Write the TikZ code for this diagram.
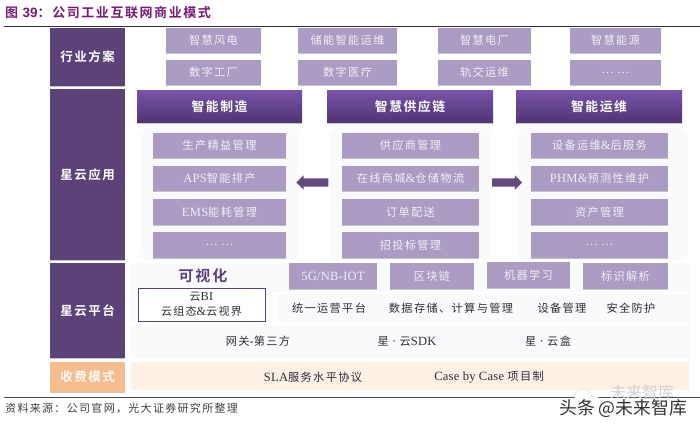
\documentclass[tikz,border=0pt]{standalone}
\usepackage{fontspec}
\setmainfont[LetterSpace=12,BoldFont=* Bold]{Noto Sans CJK SC}
\newfontfamily\plainzh{Noto Sans CJK SC}
\newfontfamily\lat[Scale=1.12,LetterSpace=2]{Liberation Serif}
\newfontfamily\arialbold{Liberation Sans Bold}
\usetikzlibrary{shadows,shapes.arrows,shapes.geometric}
\definecolor{deep}{HTML}{5B4278}
\definecolor{lilac}{HTML}{AB9CC3}
\definecolor{heada}{HTML}{7753A8}
\definecolor{headb}{HTML}{4F3472}
\definecolor{titlec}{HTML}{7A1A78}
\definecolor{orangec}{HTML}{F5BC8E}
\definecolor{peach}{HTML}{FDF1E6}
\definecolor{pale}{HTML}{FAFAFD}
\definecolor{ink}{HTML}{2E2E38}
\tikzset{
 x=1pt,y=-1pt,
 softshadow/.style={drop shadow={shadow xshift=0.4pt,shadow yshift=-0.8pt,fill=black,opacity=.22}},
 sidebox/.style={fill=deep,softshadow,text=white,font=\bfseries\fontsize{12.5}{14}\selectfont},
 lightbox/.style={fill=lilac,softshadow,text=white!82!lilac,font=\fontsize{11.2}{12}\selectfont},
 headbox/.style={top color=heada,bottom color=headb,softshadow,text=white,font=\bfseries\fontsize{12.8}{14}\selectfont},
 plainlabel/.style={text=ink,font=\fontsize{11.2}{12}\selectfont},
 blockarrow/.style={shape=single arrow,fill=deep!90!lilac,inner sep=0pt,text height=8pt,text depth=0pt,text width=1pt,single arrow head extend=3pt,single arrow head indent=0pt},
}
% name, style, x1, y1, x2, y2, text
\newcommand{\bx}[7]{\node[#2,draw=none,inner sep=0pt,minimum width=#5pt-#3pt,minimum height=#6pt-#4pt,anchor=center] (#1) at ({(#3+#5)/2},{(#4+#6)/2}) {#7};}
\begin{document}
\begin{tikzpicture}
\useasboundingbox (0,0) rectangle (700,430);
\fill[white] (0,0) rectangle (700,430);
% title and rules
\node[anchor=west,inner sep=0pt,text=titlec,font=\bfseries\fontsize{13}{14}\selectfont] (title) at (5,13) {图 {\arialbold\fontsize{13.5}{14}\selectfont 39}^^^^ff1a公司工业互联网商业模式};
\coordinate (ruleAa) at (4,26); \coordinate (ruleAb) at (700,26);
\draw[line width=.7pt,ink] (ruleAa) -- (ruleAb);
\coordinate (ruleBa) at (4,397.5); \coordinate (ruleBb) at (700,397.5);
\draw[line width=.7pt,black!70] (ruleBa) -- (ruleBb);
% pale panels
\fill[pale,rounded corners=8pt] (140,128) rectangle (298,260);
\fill[pale,rounded corners=8pt] (330,128) rectangle (490,260);
\fill[pale,rounded corners=8pt] (518,128) rectangle (688,260);
\fill[pale] (272,263) rectangle (690,292);
\fill[pale] (278,294) rectangle (690,322);
\fill[pale] (131,325) rectangle (690,358);
\fill[pale] (131,263) rectangle (272,322);
% side column
\bx{sa}{sidebox}{50}{28}{125}{86}{行业方案}
\bx{sb}{sidebox}{50}{89}{125}{260}{星云应用}
\bx{sc}{sidebox}{50}{263}{125}{358}{星云平台}
\bx{sd}{sidebox,fill=orangec,text=white!92!orangec}{50}{362}{125}{392}{收费模式}
% top rows
\bx{ta}{lightbox}{166}{28}{261}{53}{智慧风电}
\bx{tb}{lightbox}{298}{28}{397}{53}{储能智能运维}
\bx{tc}{lightbox}{438}{28}{531}{53}{智慧电厂}
\bx{td}{lightbox}{570}{28}{661}{53}{智慧能源}
\bx{ua}{lightbox}{166}{60}{261}{85}{数字工厂}
\bx{ub}{lightbox}{298}{60}{397}{85}{数字医疗}
\bx{uc}{lightbox}{438}{60}{531}{85}{轨交运维}
\bx{ud}{lightbox}{570}{60}{661}{85}{{\lat … …}}
% headers
\bx{ha}{headbox}{137}{91}{302}{123}{智能制造}
\bx{hb}{headbox}{327}{91}{493}{123}{智慧供应链}
\bx{hc}{headbox}{516}{91}{682}{123}{智能运维}
% column 1
\bx{aa}{lightbox}{153}{133}{286}{158}{生产精益管理}
\bx{ab}{lightbox}{153}{166}{286}{191}{{\lat APS}智能排产}
\bx{ac}{lightbox}{153}{199}{286}{225}{{\lat EMS}能耗管理}
\bx{ad}{lightbox}{153}{232}{286}{258}{{\lat … …}}
% column 2
\bx{ba}{lightbox}{342}{133}{479}{158}{供应商管理}
\bx{bb}{lightbox}{342}{166}{479}{191}{在线商城{\lat\&}仓储物流}
\bx{bc}{lightbox}{342}{199}{479}{225}{订单配送}
\bx{bd}{lightbox}{342}{232}{479}{258}{招投标管理}
% column 3
\bx{ca}{lightbox}{531}{133}{668}{158}{设备运维{\lat\&}后服务}
\bx{cb}{lightbox}{531}{166}{668}{191}{{\lat PHM\&}预测性维护}
\bx{cc}{lightbox}{531}{199}{668}{225}{资产管理}
\bx{cd}{lightbox}{531}{232}{668}{258}{{\lat … …}}
% block arrows
\node[blockarrow,shape border rotate=180,minimum height=32pt] (la) at (314.5,182.5) {};
\node[blockarrow,minimum height=30pt] (ra) at (505,182.5) {};
% platform
\node[inner sep=0pt,text=deep,font=\bfseries\fontsize{15}{16}\selectfont] (vis) at (203,276) {可视化};
\node[draw=deep,line width=.9pt,fill=white,minimum width=127pt,minimum height=33pt,inner sep=0pt,align=center,text=ink,font=\fontsize{11}{15}\selectfont] (bi) at (201.5,304.5) {云{\lat BI}\\云组态{\lat\&}云视界};
\bx{pa}{lightbox}{289}{263}{377}{289}{{\lat 5G/NB-IOT}}
\bx{pb}{lightbox}{390}{263}{474}{289}{区块链}
\bx{pc}{lightbox}{487}{262}{570}{288}{机器学习}
\bx{pd}{lightbox}{583}{263}{668}{289}{标识解析}
\node[plainlabel] (qa) at (329,308) {统一运营平台};
\node[plainlabel] (qb) at (451,308) {数据存储、计算与管理};
\node[plainlabel] (qc) at (562,308) {设备管理};
\node[plainlabel] (qd) at (631,308) {安全防护};
\node[plainlabel] (ra1) at (258,341) {网关{\lat -}第三方};
\node[plainlabel] (ra2) at (407,341) {星{\lat\ ·\ }云{\lat SDK}};
\node[plainlabel] (ra3) at (548,341) {星{\lat\ ·\ }云盒};
% fee
\fill[peach] (131,362) rectangle (689,390);
\node[plainlabel] (fa) at (313,377) {{\lat SLA}服务水平协议};
\node[plainlabel] (fb) at (489,377) {{\lat Case by Case }项目制};
% source
\node[anchor=west,inner sep=0pt,text=black!75,font=\fontsize{11}{12}\selectfont] (src) at (5,408) {资料来源^^^^ff1a公司官网^^^^ff0c光大证券研究所整理};
% watermark
\node[ellipse,fill=white,draw=black!12,line width=.5pt,minimum width=17pt,minimum height=13pt,inner sep=0pt] (wca) at (583,396) {};
\node[ellipse,fill=white,draw=black!12,line width=.5pt,minimum width=14pt,minimum height=11pt,inner sep=0pt] (wcb) at (594,402) {};
\node[anchor=west,inner sep=0pt,text=black!18,font=\plainzh\fontsize{16}{16}\selectfont] (wa) at (610,392) {未来智库};
\node[anchor=west,inner sep=0pt,text=black!80,font=\plainzh\fontsize{17.8}{18}\selectfont] (wb) at (559,409) {头条 @未来智库};
\end{tikzpicture}
\end{document}
